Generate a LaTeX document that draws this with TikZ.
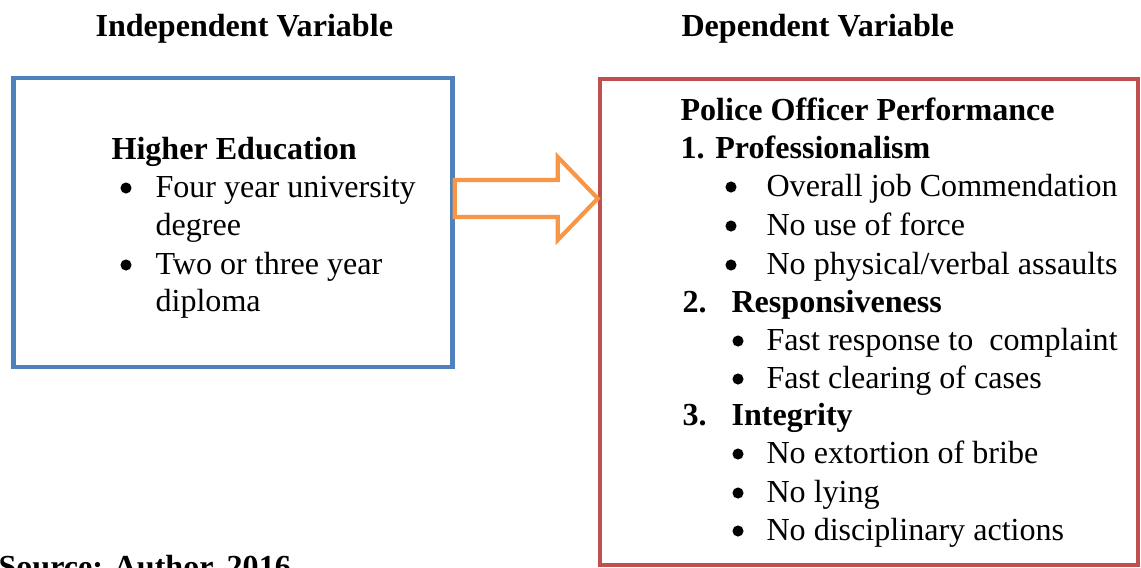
\documentclass[tikz,border=0pt]{standalone}
\usepackage{fontspec}
\setmainfont{Liberation Serif}
\usetikzlibrary{fit,calc}
\definecolor{boxblue}{HTML}{4F81BD}
\definecolor{boxred}{HTML}{C0504D}
\definecolor{arrorange}{HTML}{F79646}
\begin{document}
\begin{tikzpicture}[x=0.36pt,y=-0.36pt,
  txt/.style={anchor=base west,inner sep=0,font=\fontsize{11.55}{13.8}\selectfont},
  hd/.style={anchor=base west,inner sep=0,font=\fontsize{11.55}{13.8}\selectfont\bfseries},
  bul/.style={circle,fill=black,inner sep=0,minimum size=4pt},
  frame/.style={draw,inner sep=0,line width=1.6pt},
  blockarrow/.style={draw=arrorange,line width=1.5pt,fill=white,line join=miter}]
\useasboundingbox (0,0) rectangle (1141,567);
% headers
\node[hd] (indh) at (95,36) {Independent Variable};
\node[hd] (deph) at (681,36) {Dependent Variable};
% boxes
\node[frame,draw=boxblue,fit={(13.5,78) (452.5,367)}] (ind) {};
\node[frame,draw=boxred,fit={(600,79) (1138,565)}] (dep) {};
% arrow
\coordinate (s) at (ind.east |- 0,198.5);
\coordinate (t) at (dep.west |- 0,198.5);
\draw[blockarrow] ($(s)+(0,-18.5)$) -- ($(t)+(-40,-18.5)$) -- ($(t)+(-40,-41.5)$) -- (t)
  -- ($(t)+(-40,41.5)$) -- ($(t)+(-40,18.5)$) -- ($(s)+(0,18.5)$) -- cycle;
% left content
\node[hd] (he) at (111,159) {Higher Education};
\node[bul] (lb1) at (126,188) {};
\node[txt] (l1) at (155,197) {Four year university};
\node[txt] (l1b) at (155,235) {degree};
\node[bul] (lb2) at (126,265) {};
\node[txt] (l2) at (155,274) {Two or three year};
\node[txt] (l2b) at (155,311) {diploma};
% right content
\node[hd] (pop) at (680,120) {Police Officer Performance};
\node[hd] (n1) at (680,158) {1. Professionalism};
\node[bul] (rb1) at (731,187) {};
\node[txt] (r1) at (766,196) {Overall job Commendation};
\node[bul] (rb2) at (731,226) {};
\node[txt] (r2) at (766,235) {No use of force};
\node[bul] (rb3) at (731,265) {};
\node[txt] (r3) at (766,274) {No physical/verbal assaults};
\node[hd] (n2) at (682,312) {2.};
\node[hd] (n2t) at (731,312) {Responsiveness};
\node[bul] (rb4) at (738,341) {};
\node[txt] (r4) at (766,350) {Fast response to\ \ complaint};
\node[bul] (rb5) at (738,379) {};
\node[txt] (r5) at (766,388) {Fast clearing of cases};
\node[hd] (n3) at (682,425) {3.};
\node[hd] (n3t) at (731,425) {Integrity};
\node[bul] (rb6) at (738,454) {};
\node[txt] (r6) at (766,463) {No extortion of bribe};
\node[bul] (rb7) at (738,493) {};
\node[txt] (r7) at (766,502) {No lying};
\node[bul] (rb8) at (738,531) {};
\node[txt] (r8) at (766,540) {No disciplinary actions};
% source
\node[hd] (src) at (-2,577) {Source: Author, 2016};
\end{tikzpicture}
\end{document}
